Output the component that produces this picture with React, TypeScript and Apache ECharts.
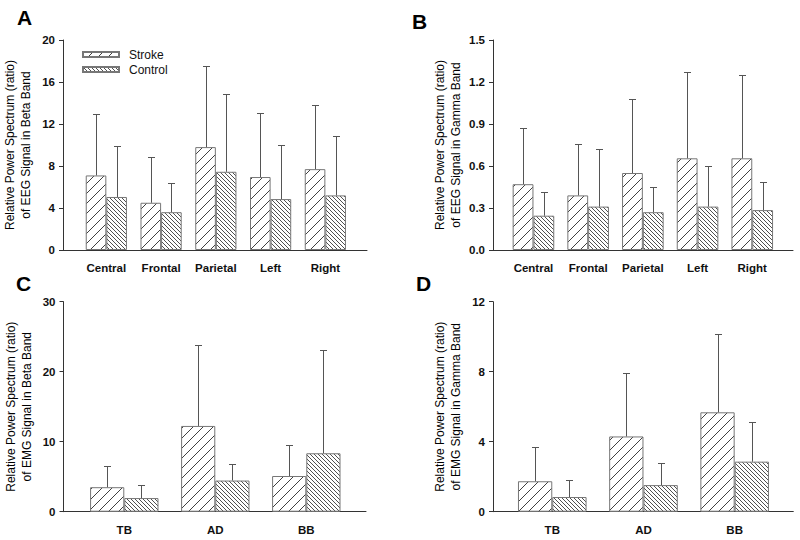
import React, { useEffect, useRef } from 'react';
import * as echarts from 'echarts';

// ---------- data ----------
const eegCategories = ['Central', 'Frontal', 'Parietal', 'Left', 'Right'];
const emgCategories = ['TB', 'AD', 'BB'];
const seriesNames = ['Stroke', 'Control'];

// A: EEG beta
const eegBetaStroke = [7.1, 4.5, 9.8, 6.95, 7.7];
const eegBetaStrokeSD = [5.9, 4.35, 7.75, 6.1, 6.1];
const eegBetaControl = [5.05, 3.6, 7.45, 4.85, 5.2];
const eegBetaControlSD = [4.85, 2.75, 7.45, 5.15, 5.65];
const eegBetaAxis = [0, 20, 4]; // min, max, interval

// B: EEG gamma
const eegGammaStroke = [0.47, 0.39, 0.55, 0.655, 0.655];
const eegGammaStrokeSD = [0.405, 0.37, 0.53, 0.62, 0.595];
const eegGammaControl = [0.245, 0.31, 0.27, 0.31, 0.285];
const eegGammaControlSD = [0.17, 0.415, 0.18, 0.29, 0.2];
const eegGammaAxis = [0, 1.5, 0.3];

// C: EMG beta
const emgBetaStroke = [3.5, 12.25, 5.1];
const emgBetaStrokeSD = [3.1, 11.6, 4.5];
const emgBetaControl = [1.95, 4.45, 8.35];
const emgBetaControlSD = [1.9, 2.3, 14.7];
const emgBetaAxis = [0, 30, 10];

// D: EMG gamma
const emgGammaStroke = [1.74, 4.3, 5.68];
const emgGammaStrokeSD = [1.96, 3.64, 4.47];
const emgGammaControl = [0.84, 1.52, 2.86];
const emgGammaControlSD = [1.0, 1.28, 2.28];
const emgGammaAxis = [0, 12, 4];

const yNameTop = 'Relative Power Spectrum (ratio)';

const FONT = 'Arial, "Liberation Sans", Helvetica, sans-serif';

function makePattern(size: number, forward: boolean, color: string) {
  const c = document.createElement('canvas');
  c.width = size;
  c.height = size;
  const ctx = c.getContext('2d')!;
  ctx.fillStyle = '#ffffff';
  ctx.fillRect(0, 0, size, size);
  ctx.fillStyle = color;
  for (let i = 0; i < size; i++) {
    const y = forward ? size - 1 - i : i;
    ctx.fillRect(i, y, 1, 1);
  }
  return { image: c, repeat: 'repeat', imageWidth: size, imageHeight: size } as any;
}

export default function App() {
  const ref = useRef<HTMLDivElement>(null);

  useEffect(() => {
    if (!ref.current) return;
    const chart = echarts.init(ref.current, null, { renderer: 'svg', width: 800, height: 540 });

    const strokePattern = makePattern(10, true, '#404040');
    const controlPattern = makePattern(4, false, '#505050');

    const panels = [
      {
        letter: 'A', letterPos: [17, 7],
        cats: eegCategories,
        stroke: eegBetaStroke, strokeSD: eegBetaStrokeSD,
        control: eegBetaControl, controlSD: eegBetaControlSD,
        axis: eegBetaAxis, decimals: 0,
        name: yNameTop + '\nof EEG Signal in Beta Band',
        grid: { left: 63, top: 40, width: 304, height: 210 },
        xMin: 0.2084, xMax: 5.7605, barW: 20.6,
      },
      {
        letter: 'B', letterPos: [412, 11],
        cats: eegCategories,
        stroke: eegGammaStroke, strokeSD: eegGammaStrokeSD,
        control: eegGammaControl, controlSD: eegGammaControlSD,
        axis: eegGammaAxis, decimals: 1,
        name: yNameTop + '\nof EEG Signal in Gamma Band',
        grid: { left: 493, top: 40, width: 300, height: 210 },
        xMin: 0.2603, xMax: 5.745, barW: 20.8,
      },
      {
        letter: 'C', letterPos: [16, 273],
        cats: emgCategories,
        stroke: emgBetaStroke, strokeSD: emgBetaStrokeSD,
        control: emgBetaControl, controlSD: emgBetaControlSD,
        axis: emgBetaAxis, decimals: 0,
        name: yNameTop + '\nof EMG Signal in Beta Band',
        grid: { left: 63.5, top: 301.7, width: 302.5, height: 210 },
        xMin: 0.332, xMax: 3.656, barW: 34.2,
      },
      {
        letter: 'D', letterPos: [416, 273],
        cats: emgCategories,
        stroke: emgGammaStroke, strokeSD: emgGammaStrokeSD,
        control: emgGammaControl, controlSD: emgGammaControlSD,
        axis: emgGammaAxis, decimals: 0,
        name: yNameTop + '\nof EMG Signal in Gamma Band',
        grid: { left: 493, top: 301.7, width: 300.3, height: 210 },
        xMin: 0.35, xMax: 3.643, barW: 34.3,
      },
    ];

    const errRender = (offset: number) => (params: any, api: any) => {
      const x = api.value(0);
      const m = api.value(1);
      const sd = api.value(2);
      const p0 = api.coord([x, m]);
      const p1 = api.coord([x, m + sd]);
      const cx = Math.round(p0[0] + offset) + 0.5;
      const yTop = Math.round(p1[1]) + 0.5;
      const st = { stroke: '#555555', lineWidth: 1 };
      return {
        type: 'group',
        children: [
          { type: 'line', shape: { x1: cx, y1: p0[1], x2: cx, y2: yTop }, style: st },
          { type: 'line', shape: { x1: cx - 3.5, y1: yTop, x2: cx + 3.5, y2: yTop }, style: st },
        ],
      };
    };

    const grids: any[] = [];
    const xAxes: any[] = [];
    const yAxes: any[] = [];
    const series: any[] = [];
    const graphics: any[] = [];

    panels.forEach((p, gi) => {
      grids.push({ ...p.grid, containLabel: false });
      xAxes.push({
        type: 'value',
        gridIndex: gi,
        min: p.xMin,
        max: p.xMax,
        axisLine: { show: true, onZero: false, lineStyle: { color: '#333', width: 1 } },
        axisTick: { show: false },
        splitLine: { show: false },
        axisLabel: {
          customValues: p.cats.map((_, i) => i + 1),
          formatter: (v: number) => p.cats[Math.round(v) - 1] ?? '',
          fontFamily: FONT,
          fontWeight: 'bold',
          fontSize: 11.5,
          color: '#111',
          margin: 12,
        },
      });
      yAxes.push({
        type: 'value',
        gridIndex: gi,
        min: p.axis[0],
        max: p.axis[1],
        interval: p.axis[2],
        axisLine: { show: true, lineStyle: { color: '#333', width: 1 } },
        axisTick: { show: true, length: 4, lineStyle: { color: '#333' } },
        splitLine: { show: false },
        axisLabel: {
          formatter: (v: number) => v.toFixed(p.decimals),
          fontFamily: FONT,
          fontWeight: 'bold',
          fontSize: 11.5,
          color: '#111',
          margin: 8,
        },
        name: p.name,
        nameLocation: 'middle',
        nameRotate: 90,
        nameGap: 29,
        nameTextStyle: { fontFamily: FONT, fontSize: 12, lineHeight: 16, color: '#000' },
      });

      const groups = [
        { name: seriesNames[0], vals: p.stroke, sd: p.strokeSD, pattern: strokePattern, off: -p.barW / 2 },
        { name: seriesNames[1], vals: p.control, sd: p.controlSD, pattern: controlPattern, off: p.barW / 2 },
      ];
      groups.forEach((g) => {
        series.push({
          type: 'bar',
          name: g.name,
          xAxisIndex: gi,
          yAxisIndex: gi,
          barWidth: p.barW,
          barGap: '0%',
          data: g.vals.map((v, i) => [i + 1, v]),
          itemStyle: { color: g.pattern, borderColor: '#777', borderWidth: 1 },
          emphasis: { disabled: true },
        });
      });
      groups.forEach((g) => {
        series.push({
          type: 'custom',
          name: g.name + ' SD',
          xAxisIndex: gi,
          yAxisIndex: gi,
          encode: { x: 0, y: 1 },
          data: g.vals.map((v, i) => [i + 1, v, g.sd[i]]),
          renderItem: errRender(g.off),
          z: 3,
        });
      });

      graphics.push({
        type: 'text',
        left: p.letterPos[0],
        top: p.letterPos[1],
        style: { text: p.letter, fontFamily: FONT, fontWeight: 'bold', fontSize: 21, fill: '#000' },
      });
    });

    chart.setOption({
      animation: false,
      backgroundColor: '#ffffff',
      textStyle: { fontFamily: FONT },
      grid: grids,
      xAxis: xAxes,
      yAxis: yAxes,
      series,
      legend: {
        data: seriesNames,
        orient: 'vertical',
        left: 82,
        top: 48,
        padding: 0,
        icon: 'rect',
        itemWidth: 36,
        itemHeight: 5,
        itemGap: 2,
        selectedMode: false,
        textStyle: { fontFamily: FONT, fontSize: 12, color: '#111', lineHeight: 13, padding: [0, 0, 0, 5] },
      },
      graphic: graphics,
    });

    return () => chart.dispose();
  }, []);

  return (
    <div
      ref={ref}
      style={{ position: 'fixed', left: 0, top: 0, width: 800, height: 540, background: '#fff' }}
    />
  );
}
